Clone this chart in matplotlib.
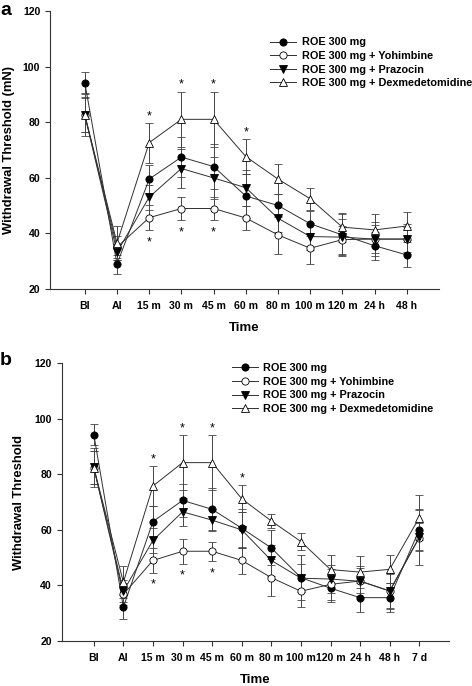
import matplotlib
matplotlib.use("Agg")
import matplotlib.pyplot as plt
import numpy as np

plt.rcParams['font.family'] = ['Liberation Sans', 'DejaVu Sans']
plt.rcParams['font.weight'] = 'bold'

# panel a
labels_a = ["Bl", "Al", "15 m", "30 m", "45 m", "60 m", "80 m", "100 m", "120 m", "24 h", "48 h"]
roe_a = [94.2, 28.9, 59.5, 67.4, 64.0, 53.4, 50.0, 43.4, 39.4, 35.5, 32.2]
roe_a_err = [3.9, 3.4, 5.0, 7.2, 8.0, 8.0, 4.3, 4.5, 7.5, 5.0, 4.5]
yoh_a = [82.6, 35.0, 45.6, 48.9, 48.9, 45.5, 39.4, 34.6, 37.7, 37.9, 37.9]
yoh_a_err = [6.3, 4.0, 4.5, 4.2, 4.2, 4.3, 6.8, 5.6, 5.0, 5.0, 4.5]
praz_a = [82.5, 33.2, 53.0, 63.3, 59.9, 56.4, 45.4, 38.8, 38.6, 37.9, 37.9]
praz_a_err = [6.0, 3.0, 4.5, 7.0, 7.5, 6.5, 5.0, 5.0, 6.5, 6.0, 5.5]
dex_a = [82.6, 36.5, 72.6, 81.0, 81.0, 67.6, 59.5, 52.4, 42.2, 41.2, 42.6]
dex_a_err = [7.5, 6.0, 7.2, 10.0, 10.0, 6.2, 5.4, 4.0, 5.2, 5.8, 5.0]

# panel b
labels_b = ["Bl", "Al", "15 m", "30 m", "45 m", "60 m", "80 m", "100 m", "120 m", "24 h", "48 h", "7 d"]
roe_b = [94.3, 32.2, 63.0, 70.6, 67.4, 60.6, 53.5, 42.8, 39.0, 35.6, 35.6, 60.1]
roe_b_err = [3.9, 4.4, 5.5, 6.0, 7.5, 7.0, 6.3, 8.0, 5.0, 5.2, 5.2, 7.3]
yoh_b = [82.4, 36.8, 49.0, 52.3, 52.3, 49.0, 42.8, 37.9, 40.4, 41.6, 38.0, 57.2]
yoh_b_err = [6.0, 4.0, 4.4, 4.5, 3.5, 5.0, 6.7, 5.7, 5.5, 4.5, 6.5, 10.0]
praz_b = [82.5, 38.0, 56.2, 66.5, 63.5, 60.0, 49.0, 42.6, 42.3, 41.5, 38.0, 57.4]
praz_b_err = [6.0, 4.0, 4.5, 5.0, 4.0, 6.5, 5.5, 5.0, 5.0, 5.5, 6.0, 5.0]
dex_b = [82.4, 41.2, 75.8, 84.2, 84.2, 71.2, 63.2, 55.8, 45.7, 44.8, 45.8, 64.4]
dex_b_err = [7.0, 5.8, 7.2, 9.8, 9.8, 4.8, 2.6, 3.0, 5.1, 5.7, 5.0, 8.0]

# significance marks (index of time point)
stars_up = [2, 3, 4, 5]
stars_down = [2, 3, 4]

names = ["ROE 300 mg", "ROE 300 mg + Yohimbine", "ROE 300 mg + Prazocin",
         "ROE 300 mg + Dexmedetomidine"]
styles = [dict(marker='o', mfc='black', ms=5.2),
          dict(marker='o', mfc='white', ms=5.2),
          dict(marker='v', mfc='black', ms=5.5),
          dict(marker='^', mfc='white', ms=5.5)]

LC = '#303030'


def draw_panel(ax, labels, series, errs, ylabel, ylab_x, legend_x, legend_y):
    x = np.arange(len(labels))
    handles = []
    for s, e, name, st in zip(series, errs, names, styles):
        c = ax.errorbar(x, s, yerr=e, color=LC, ecolor='#454545', lw=0.7,
                        elinewidth=0.7, capsize=3, capthick=0.7,
                        mec='black', mew=0.6, label=name, **st)
        handles.append(c[0])
    dex, dex_e = series[3], errs[3]
    yoh, yoh_e = series[1], errs[1]
    for i in stars_up:
        ax.annotate('*', (x[i], dex[i] + dex_e[i]), xytext=(0, 0.5),
                    textcoords='offset points', ha='center', va='bottom',
                    fontsize=9, fontweight='normal')
    for i in stars_down:
        ax.annotate('*', (x[i], yoh[i] - yoh_e[i]), xytext=(0, -13),
                    textcoords='offset points', ha='center', va='bottom',
                    fontsize=9, fontweight='normal')
    ax.set_xlim(-1.08, len(labels))
    ax.set_ylim(20, 120)
    ax.set_yticks([20, 40, 60, 80, 100, 120])
    ax.set_xticks(x)
    ax.set_xticklabels(labels)
    ax.spines['top'].set_visible(False)
    ax.spines['right'].set_visible(False)
    for sp in ['left', 'bottom']:
        ax.spines[sp].set_linewidth(0.8)
        ax.spines[sp].set_color('#333333')
    ax.tick_params(direction='out', length=3.5, width=0.8, labelsize=7.6,
                   color='#333333')
    ax.tick_params(axis='x', pad=5)
    ax.set_xlabel("Time", fontsize=9.5, fontweight='bold', va='center')
    ax.xaxis.set_label_coords(0.5, -0.14)
    ax.set_ylabel(ylabel, fontsize=9.4, fontweight='bold', va='center')
    ax.yaxis.set_label_coords(ylab_x, 0.5)
    ax.legend(handles=handles, labels=names, loc='upper left',
              bbox_to_anchor=(legend_x, legend_y),
              frameon=False, fontsize=7.8, handlelength=2.4,
              handletextpad=0.5, labelspacing=0.33, borderpad=0,
              borderaxespad=0)


fig = plt.figure(figsize=(4.72, 6.86), dpi=100)
ax1 = fig.add_axes([0.106, 0.579, 0.824, 0.405])
ax2 = fig.add_axes([0.131, 0.0656, 0.820, 0.405])

draw_panel(ax1, labels_a, [roe_a, yoh_a, praz_a, dex_a],
           [roe_a_err, yoh_a_err, praz_a_err, dex_a_err],
           "Withdrawal Threshold (mN)", -0.105, 0.566, 0.905)
draw_panel(ax2, labels_b, [roe_b, yoh_b, praz_b, dex_b],
           [roe_b_err, yoh_b_err, praz_b_err, dex_b_err],
           "Withdrawal Threshold", -0.111, 0.439, 1.0)

fig.text(0.0, 0.997, "a", fontsize=14, fontweight='bold', va='top')
fig.text(0.0, 0.487, "b", fontsize=14, fontweight='bold', va='top')

fig.savefig("out.png", dpi=100)
